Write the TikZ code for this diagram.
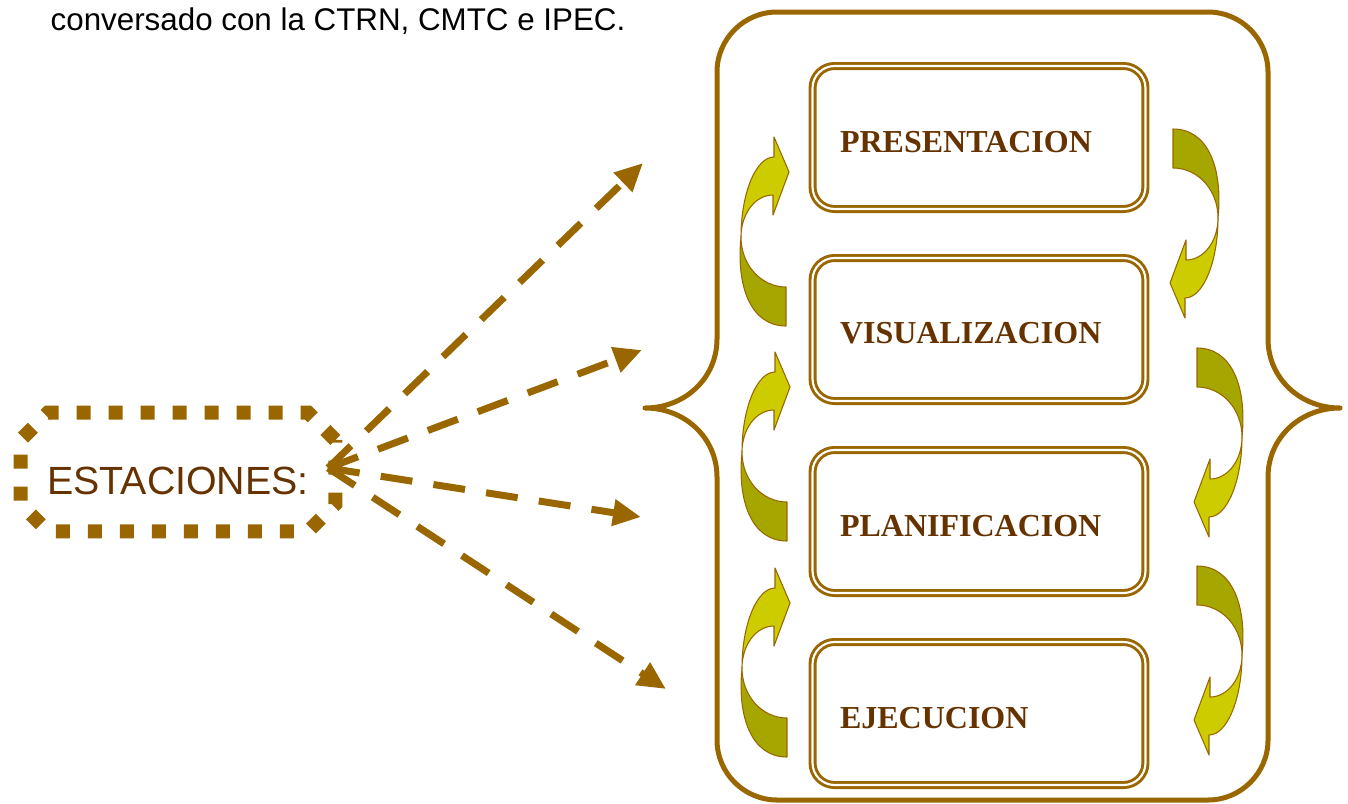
\documentclass[tikz,border=0pt]{standalone}
\usepackage{fontspec}
\setmainfont{Liberation Serif}
\newfontfamily\arialfont{Liberation Sans}
\usepackage{tikz}
\usetikzlibrary{positioning}
\usetikzlibrary{arrows.meta}
\usetikzlibrary{shapes.misc}
\definecolor{mybrown}{RGB}{153,102,0}
\definecolor{mydarkbrown}{RGB}{102,51,0}
\definecolor{myyellow}{RGB}{204,204,0}
\definecolor{myolive}{RGB}{166,166,0}
\tikzset{stage node/.style={rectangle,rounded corners=16.5pt,draw=mybrown,double=white,double distance=1.6pt,line width=2.2pt,outer sep=0pt,minimum height=107.25pt,text width=208.5pt,inner xsep=20.6pt,inner ysep=0pt,align=left,text height=22pt,text=mydarkbrown,font=\fontsize{24pt}{27pt}\selectfont\bfseries},
  station node/.style={chamfered rectangle,chamfered rectangle xsep=26pt,draw=mybrown,line width=10.5pt,dash pattern=on 10.5pt off 13.5pt,minimum width=236pt,minimum height=89pt,inner sep=0pt,text height=34.5pt,text=mydarkbrown,font=\arialfont\fontsize{29.5pt}{32pt}\selectfont},
  link/.style={draw=mybrown,line width=5.25pt,dash pattern=on 24pt off 16pt,-{Triangle[length=21pt,width=19pt]}},
  frame/.style={draw=mybrown,line width=3.75pt,line join=round,line cap=round},
  front/.style={fill=myyellow,draw=mybrown,line width=0.8pt,line join=round},
  back/.style={fill=myolive,draw=mybrown,line width=0.8pt,line join=round},}

\begin{document}
\begin{tikzpicture}[x=0.75pt, y=-0.75pt, node distance=36.75pt]
	\useasboundingbox (0,0) rectangle (1348,803);

	\node[anchor=base west, font=\arialfont\fontsize{23.5pt}{26pt}\selectfont] (note) at (46,30) {conversado con la CTRN, CMTC e IPEC.};

	% big brace frame
	\draw[frame] (645,408) .. controls (685,408) and (717,378) .. (717,339) -- (717,72)
	  .. controls (717,39) and (744,12) .. (777,12) -- (1208,12)
	  .. controls (1241,12) and (1268,39) .. (1268,72) -- (1268,339)
	  .. controls (1268,378) and (1300,408) .. (1340,408)
	  .. controls (1300,408) and (1268,438) .. (1268,477) -- (1268,740)
	  .. controls (1268,773) and (1241,800) .. (1208,800) -- (777,800)
	  .. controls (744,800) and (717,773) .. (717,740) -- (717,477)
	  .. controls (717,438) and (685,408) .. (645,408) -- cycle;

	\node[stage node] (pres) at (979,137.5) {PRESENTACION};
	\node[stage node] (visu) [below = of pres] {VISUALIZACION};
	\node[stage node] (plan) [below = of visu] {PLANIFICACION};
	\node[stage node] (ejec) [below = of plan] {EJECUCION};

	% curved arrows
	\foreach \cx/\cy/\rot in {741/237/0, 742/452/0, 742/668/0, 1218/218/180, 1242/437/180, 1242/655/180}{
	  \begin{scope}[shift={(\cx,\cy)}, rotate=\rot]
	    \draw[back] (0,0) .. controls (0,28) and (20,50) .. (45,50) -- (45,89) .. controls (10,89) and (-5,50) .. (0,0) -- cycle;
	    \draw[front] (0,0) .. controls (0,-44) and (15,-80) .. (33,-80) -- (33,-100) -- (48,-65) -- (32,-22) -- (32,-42) .. controls (14,-42) and (0,-23) .. (0,0) -- cycle;
	  \end{scope}
	}

	\node[station node] (est) at (178,472) {ESTACIONES:};

	\coordinate (hub) at (328,468);
	\coordinate (t1) at (643,163);
	\coordinate (t2) at (642,350);
	\coordinate (t3) at (641,517);
	\coordinate (t4) at (666,689);

	\draw[link] (hub) -- (t1);
	\draw[link] (hub) -- (t2);
	\draw[link] (hub) -- (t3);
	\draw[link] (hub) -- (t4);
\end{tikzpicture}
\end{document}
